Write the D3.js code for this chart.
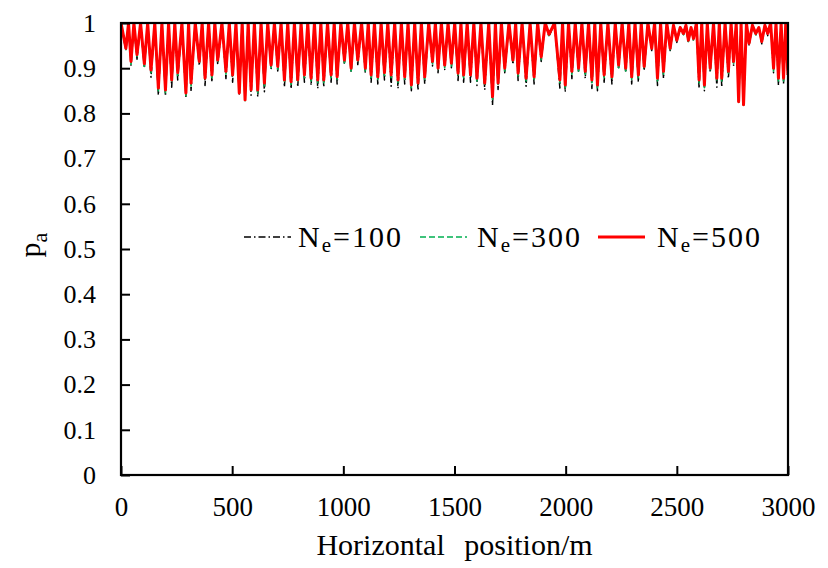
<!DOCTYPE html>
<html>
<head>
<meta charset="utf-8">
<script src="https://cdn.jsdelivr.net/npm/d3@7"></script>
<style>
  body { margin: 0; background: #fff; }
</style>
</head>
<body>
<div id="chart"></div>
<script>
// positions of the peaks (m) and the peak value (same for all three runs)
var peakPos = [
  0, 34, 58, 88, 120, 152, 184, 214, 242, 274,
  304, 334, 365, 394, 422, 454, 487, 517, 545, 572,
  600, 630, 660, 690, 720, 750, 780, 810, 840, 870,
  899, 929, 959, 989, 1020, 1050, 1082, 1112, 1140, 1170,
  1200, 1231, 1261, 1291, 1321, 1351, 1384, 1414, 1441, 1471,
  1501, 1529, 1557, 1587, 1619, 1654, 1684, 1711, 1745, 1775,
  1804, 1840, 1874, 1908, 1950, 1986, 2013, 2043, 2073, 2103,
  2131, 2158, 2190, 2223, 2254, 2284, 2312, 2340, 2370, 2400,
  2427, 2455, 2485, 2515, 2541, 2564, 2588, 2612, 2637, 2665,
  2691, 2717, 2744, 2767, 2789, 2813, 2840, 2869, 2896, 2922,
  2946, 2969, 2990
];
var peakVal = [
  1, 1, 1, 1, 1, 1, 1, 1, 1, 1,
  1, 1, 1, 1, 1, 1, 1, 1, 1, 1,
  1, 1, 1, 1, 1, 1, 1, 1, 1, 1,
  1, 1, 1, 1, 1, 1, 1, 1, 1, 1,
  1, 1, 1, 1, 1, 1, 1, 1, 1, 1,
  1, 1, 1, 1, 1, 1, 1, 1, 1, 1,
  1, 1, 1, 1, 1, 1, 1, 1, 1, 1,
  1, 1, 1, 1, 1, 1, 1, 1, 1, 1,
  1, 1, 0.995, 0.99, 0.995, 0.99, 1, 1, 1, 1,
  1, 1, 1, 1, 1, 1, 0.995, 0.99, 0.995, 1,
  1, 1, 1
];

// positions of the troughs (m)
var troughPos = [
  22, 45, 72, 105, 135, 168, 200, 228, 255, 292,
  315, 352, 378, 409, 435, 472, 502, 532, 558, 585,
  615, 645, 675, 705, 735, 765, 795, 825, 855, 885,
  912, 945, 972, 1005, 1035, 1065, 1099, 1125, 1155, 1185,
  1215, 1246, 1276, 1306, 1336, 1366, 1401, 1426, 1456, 1486,
  1516, 1541, 1572, 1601, 1636, 1671, 1696, 1726, 1763, 1786,
  1822, 1858, 1890, 1925, 1974, 1998, 2028, 2058, 2088, 2118,
  2143, 2173, 2208, 2238, 2270, 2297, 2327, 2353, 2387, 2413,
  2440, 2470, 2500, 2530, 2552, 2575, 2600, 2624, 2650, 2680,
  2702, 2732, 2755, 2778, 2800, 2825, 2855, 2882, 2909, 2935,
  2957, 2980, 3000
];

// Ne=100
var trough100 = [
  0.939, 0.905, 0.920, 0.900, 0.880, 0.840, 0.838, 0.858, 0.874, 0.836,
  0.851, 0.905, 0.862, 0.869, 0.908, 0.877, 0.869, 0.843, 0.829, 0.840,
  0.836, 0.848, 0.897, 0.894, 0.858, 0.854, 0.858, 0.869, 0.862, 0.855,
  0.858, 0.869, 0.865, 0.908, 0.890, 0.908, 0.890, 0.869, 0.865, 0.874,
  0.860, 0.855, 0.865, 0.850, 0.851, 0.865, 0.905, 0.890, 0.897, 0.901,
  0.873, 0.869, 0.869, 0.862, 0.852, 0.818, 0.853, 0.890, 0.908, 0.873,
  0.860, 0.865, 0.915, 0.970, 0.856, 0.847, 0.877, 0.890, 0.877, 0.855,
  0.850, 0.869, 0.865, 0.897, 0.890, 0.865, 0.869, 0.894, 0.939, 0.862,
  0.877, 0.939, 0.957, 0.972, 0.957, 0.961, 0.855, 0.850, 0.890, 0.858,
  0.858, 0.877, 0.905, 0.825, 0.818, 0.950, 0.972, 0.954, 0.972, 0.890,
  0.862, 0.866, 0.869
];
// Ne=300
var trough300 = [
  0.941, 0.909, 0.924, 0.904, 0.890, 0.850, 0.846, 0.868, 0.884, 0.839,
  0.861, 0.909, 0.872, 0.879, 0.912, 0.887, 0.879, 0.842, 0.828, 0.846,
  0.846, 0.861, 0.901, 0.898, 0.868, 0.864, 0.868, 0.879, 0.872, 0.868,
  0.868, 0.879, 0.875, 0.912, 0.894, 0.912, 0.894, 0.879, 0.875, 0.884,
  0.879, 0.868, 0.875, 0.857, 0.861, 0.875, 0.909, 0.894, 0.901, 0.905,
  0.883, 0.879, 0.879, 0.872, 0.861, 0.831, 0.861, 0.894, 0.912, 0.883,
  0.872, 0.875, 0.919, 0.972, 0.868, 0.857, 0.887, 0.894, 0.887, 0.868,
  0.857, 0.879, 0.875, 0.901, 0.894, 0.875, 0.879, 0.898, 0.941, 0.872,
  0.887, 0.941, 0.959, 0.974, 0.959, 0.963, 0.868, 0.857, 0.894, 0.872,
  0.872, 0.887, 0.909, 0.825, 0.818, 0.952, 0.974, 0.956, 0.974, 0.894,
  0.872, 0.872, 0.879
];
// Ne=500
var trough500 = [
  0.944, 0.915, 0.930, 0.910, 0.896, 0.856, 0.852, 0.874, 0.890, 0.845,
  0.867, 0.915, 0.878, 0.885, 0.918, 0.893, 0.885, 0.845, 0.830, 0.852,
  0.852, 0.867, 0.907, 0.904, 0.874, 0.870, 0.874, 0.885, 0.878, 0.874,
  0.874, 0.885, 0.881, 0.918, 0.900, 0.918, 0.900, 0.885, 0.881, 0.890,
  0.885, 0.874, 0.881, 0.863, 0.867, 0.881, 0.915, 0.900, 0.907, 0.911,
  0.889, 0.885, 0.885, 0.878, 0.867, 0.837, 0.867, 0.900, 0.918, 0.889,
  0.878, 0.881, 0.925, 0.975, 0.874, 0.863, 0.893, 0.900, 0.893, 0.874,
  0.863, 0.885, 0.881, 0.907, 0.900, 0.881, 0.885, 0.904, 0.944, 0.878,
  0.893, 0.944, 0.962, 0.977, 0.962, 0.966, 0.874, 0.863, 0.900, 0.878,
  0.878, 0.893, 0.915, 0.826, 0.819, 0.955, 0.977, 0.959, 0.977, 0.900,
  0.878, 0.878, 0.885
];

var xTicks = [0, 500, 1000, 1500, 2000, 2500, 3000];
var yTicks = [0, 0.1, 0.2, 0.3, 0.4, 0.5, 0.6, 0.7, 0.8, 0.9, 1];

var W = 828, H = 568;
var margin = {top: 23, right: 40, bottom: 93, left: 121};
var serif = "'Liberation Serif', 'Times New Roman', Times, serif";

var svg = d3.select("#chart").append("svg")
    .attr("width", W)
    .attr("height", H)
    .style("font-family", serif);

var x = d3.scaleLinear().domain([0, 3000]).range([margin.left, W - margin.right]);
var y = d3.scaleLinear().domain([0, 1]).range([H - margin.bottom, margin.top]);

// Reihe aus Spitzen und Tälern zusammensetzen
function buildSeries(troughs) {
    var pts = peakPos.map((p, i) => ({pos: p, v: peakVal[i]}));
    troughPos.forEach((p, i) => pts.push({pos: p, v: troughs[i]}));
    pts.sort((a, b) => a.pos - b.pos);
    return pts;
}

var series = [
    {name: "100", data: buildSeries(trough100), color: "#000", width: 1.5, dash: "7,3,1.5,3"},
    {name: "300", data: buildSeries(trough300), color: "#00b050", width: 1.7, dash: "6,3"},
    {name: "500", data: buildSeries(trough500), color: "#ff0000", width: 3, dash: null}
];

var line = d3.line()
    .x(d => x(d.pos))
    .y(d => y(d.v));

var plot = svg.append("g");
plot.append("clipPath").attr("id", "clip")
    .append("rect")
    .attr("x", x(0)).attr("y", y(1) - 1)
    .attr("width", x(3000) - x(0)).attr("height", y(0) - y(1) + 1);

plot.selectAll("path.series")
    .data(series)
    .enter()
    .append("path")
    .attr("class", "series")
    .attr("clip-path", "url(#clip)")
    .attr("d", d => line(d.data))
    .attr("fill", "none")
    .attr("stroke", d => d.color)
    .attr("stroke-width", d => d.width)
    .attr("stroke-linejoin", "round")
    .attr("stroke-dasharray", d => d.dash);

// Achsen (Ticks nach innen)
var xAxis = svg.append("g")
    .attr("transform", "translate(0," + y(0) + ")")
    .call(d3.axisBottom(x).tickValues(xTicks).tickSize(-9).tickPadding(22).tickFormat(d3.format("d")));
xAxis.attr("font-family", null).attr("font-size", null);
xAxis.select(".domain").remove();
xAxis.selectAll("line").attr("stroke", "#000").attr("stroke-width", 2);
xAxis.selectAll("text").attr("fill", "#000").style("font-size", "27px");

var yAxis = svg.append("g")
    .attr("transform", "translate(" + x(0) + ",0)")
    .call(d3.axisLeft(y).tickValues(yTicks).tickSize(-9).tickPadding(25).tickFormat(d3.format(".1~f")));
yAxis.attr("font-family", null).attr("font-size", null);
yAxis.select(".domain").remove();
yAxis.selectAll("line").attr("stroke", "#000").attr("stroke-width", 2);
yAxis.selectAll("text").attr("fill", "#000").style("font-size", "26px");

// Rahmen
svg.append("rect")
    .attr("x", x(0)).attr("y", y(1))
    .attr("width", x(3000) - x(0)).attr("height", y(0) - y(1))
    .attr("fill", "none")
    .attr("stroke", "#000")
    .attr("stroke-width", 2.2);

// Achsentitel
svg.append("text")
    .attr("x", (x(0) + x(3000)) / 2)
    .attr("y", 555)
    .attr("text-anchor", "middle")
    .style("font-size", "30px")
    .style("word-spacing", "12px")
    .text("Horizontal position/m");

var yTitle = svg.append("text")
    .attr("transform", "translate(40," + (y(0.5) - 4) + ") rotate(-90)")
    .attr("text-anchor", "middle")
    .style("font-size", "30px");
yTitle.append("tspan").text("p");
yTitle.append("tspan").attr("dy", 7).style("font-size", "22px").text("a");

// Legende
var legendItems = [
    {s: series[0], x0: 244, tx: 298},
    {s: series[1], x0: 420, tx: 477},
    {s: series[2], x0: 598, tx: 657}
];
var legendY = 237;
var legend = svg.append("g");
legendItems.forEach(function(item) {
    legend.append("line")
        .attr("x1", item.x0).attr("x2", item.x0 + 47)
        .attr("y1", legendY).attr("y2", legendY)
        .attr("stroke", item.s.color)
        .attr("stroke-width", item.s.width)
        .attr("stroke-dasharray", item.s.dash);
    var t = legend.append("text")
        .attr("x", item.tx)
        .attr("y", legendY + 10)
        .style("font-size", "30px")
        .style("letter-spacing", "2px");
    t.append("tspan").text("N");
    t.append("tspan").attr("dy", 5).style("font-size", "21px").text("e");
    t.append("tspan").attr("dy", -5).text("=" + item.s.name);
});
</script>
</body>
</html>
